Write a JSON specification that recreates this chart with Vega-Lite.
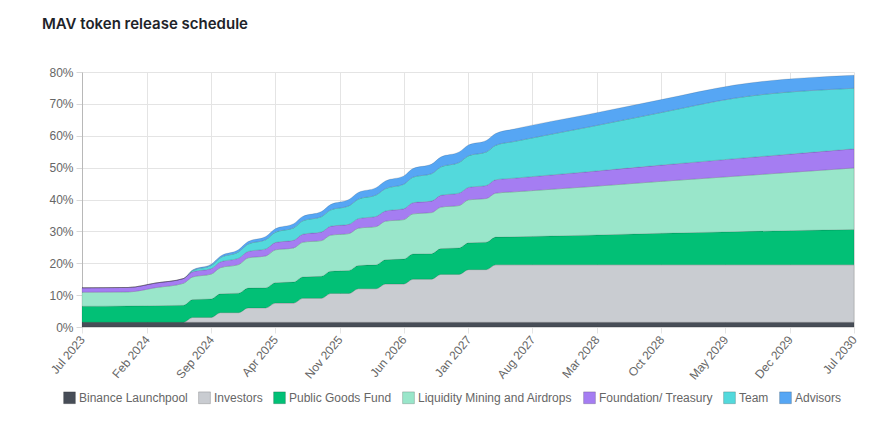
{
  "$schema": "https://vega.github.io/schema/vega-lite/v6.json",
  "width": 772,
  "height": 255,
  "autosize": "none",
  "padding": {"left": 82, "top": 72, "right": 38, "bottom": 104},
  "background": "white",
  "config": {"view": {"stroke": null}},
  "title": {
    "text": "MAV token release schedule",
    "anchor": "start",
    "frame": "group",
    "dx": -40,
    "offset": 34,
    "font": "Inter",
    "fontSize": 15,
    "fontWeight": 600,
    "color": "#1e2329"
  },
  "data": {
    "values": [
      {"d": "2023-07-01", "b": 1.5, "i": 0, "p": 5.0, "l": 4.4, "f": 1.4, "t": 0, "a": 0},
      {"d": "2023-12-01", "b": 1.5, "i": 0, "p": 5.1, "l": 4.4, "f": 1.4, "t": 0, "a": 0},
      {"d": "2024-03-01", "b": 1.5, "i": 0, "p": 5.2, "l": 5.65, "f": 1.45, "t": 0, "a": 0},
      {"d": "2024-06-01", "b": 1.5, "i": 0, "p": 5.3, "l": 6.9, "f": 1.5, "t": 0, "a": 0},
      {"d": "2024-07-01", "b": 1.5, "i": 1.5, "p": 5.6, "l": 7.1, "f": 1.6, "t": 0.4, "a": 0.2},
      {"d": "2024-09-01", "b": 1.5, "i": 1.5, "p": 5.8, "l": 7.8, "f": 1.7, "t": 1.0, "a": 0.4},
      {"d": "2024-10-01", "b": 1.5, "i": 3, "p": 5.9, "l": 8.2, "f": 1.8, "t": 1.3, "a": 0.5},
      {"d": "2024-12-01", "b": 1.5, "i": 3, "p": 6.1, "l": 9.0, "f": 2.0, "t": 2.0, "a": 0.7},
      {"d": "2025-01-01", "b": 1.5, "i": 4.5, "p": 6.2, "l": 9.5, "f": 2.0, "t": 2.3, "a": 0.8},
      {"d": "2025-03-01", "b": 1.5, "i": 4.5, "p": 6.3, "l": 10.0, "f": 2.2, "t": 2.9, "a": 1.0},
      {"d": "2025-04-01", "b": 1.5, "i": 6, "p": 6.4, "l": 10.3, "f": 2.3, "t": 3.2, "a": 1.1},
      {"d": "2025-06-01", "b": 1.5, "i": 6, "p": 6.6, "l": 10.7, "f": 2.4, "t": 3.9, "a": 1.3},
      {"d": "2025-07-01", "b": 1.5, "i": 7.5, "p": 6.7, "l": 10.9, "f": 2.5, "t": 4.2, "a": 1.4},
      {"d": "2025-09-01", "b": 1.5, "i": 7.5, "p": 6.9, "l": 11.2, "f": 2.7, "t": 4.8, "a": 1.6},
      {"d": "2025-10-01", "b": 1.5, "i": 9, "p": 7.0, "l": 11.3, "f": 2.8, "t": 5.1, "a": 1.7},
      {"d": "2025-12-01", "b": 1.5, "i": 9, "p": 7.2, "l": 11.6, "f": 2.9, "t": 5.8, "a": 2.0},
      {"d": "2026-01-01", "b": 1.5, "i": 10.5, "p": 7.3, "l": 11.7, "f": 3.0, "t": 6.1, "a": 2.1},
      {"d": "2026-03-01", "b": 1.5, "i": 10.5, "p": 7.5, "l": 12.0, "f": 3.2, "t": 6.7, "a": 2.3},
      {"d": "2026-04-01", "b": 1.5, "i": 12, "p": 7.6, "l": 12.1, "f": 3.2, "t": 7.0, "a": 2.4},
      {"d": "2026-06-01", "b": 1.5, "i": 12, "p": 7.8, "l": 12.4, "f": 3.4, "t": 7.7, "a": 2.6},
      {"d": "2026-07-01", "b": 1.5, "i": 13.5, "p": 7.9, "l": 12.6, "f": 3.5, "t": 8.0, "a": 2.7},
      {"d": "2026-09-01", "b": 1.5, "i": 13.5, "p": 8.0, "l": 12.9, "f": 3.6, "t": 8.6, "a": 3.0},
      {"d": "2026-10-01", "b": 1.5, "i": 15, "p": 8.1, "l": 13.0, "f": 3.7, "t": 8.9, "a": 3.1},
      {"d": "2026-12-01", "b": 1.5, "i": 15, "p": 8.3, "l": 13.3, "f": 3.9, "t": 9.6, "a": 3.3},
      {"d": "2027-01-01", "b": 1.5, "i": 16.5, "p": 8.4, "l": 13.5, "f": 3.9, "t": 9.9, "a": 3.4},
      {"d": "2027-03-01", "b": 1.5, "i": 16.5, "p": 8.6, "l": 13.7, "f": 4.1, "t": 10.5, "a": 3.6},
      {"d": "2027-04-01", "b": 1.5, "i": 18, "p": 8.7, "l": 13.8, "f": 4.2, "t": 10.8, "a": 3.7},
      {"d": "2027-06-01", "b": 1.5, "i": 18, "p": 8.8, "l": 14.1, "f": 4.3, "t": 11.5, "a": 3.9},
      {"d": "2028-02-01", "b": 1.5, "i": 18, "p": 9.3, "l": 15.2, "f": 4.7, "t": 14.0, "a": 4.0},
      {"d": "2028-10-01", "b": 1.5, "i": 18, "p": 9.9, "l": 16.3, "f": 5.1, "t": 16.5, "a": 4.05},
      {"d": "2029-06-01", "b": 1.5, "i": 18, "p": 10.4, "l": 17.4, "f": 5.5, "t": 19.0, "a": 4.1},
      {"d": "2030-07-01", "b": 1.5, "i": 18, "p": 11.1, "l": 19.3, "f": 6.0, "t": 19.0, "a": 4.1}
    ]
  },
  "transform": [
    {"fold": ["b", "i", "p", "l", "f", "t", "a"], "as": ["key", "v"]},
    {
      "lookup": "key",
      "from": {
        "data": {
          "values": [
            {"key": "b", "name": "Binance Launchpool", "ord": 0},
            {"key": "i", "name": "Investors", "ord": 1},
            {"key": "p", "name": "Public Goods Fund", "ord": 2},
            {"key": "l", "name": "Liquidity Mining and Airdrops", "ord": 3},
            {"key": "f", "name": "Foundation/ Treasury", "ord": 4},
            {"key": "t", "name": "Team", "ord": 5},
            {"key": "a", "name": "Advisors", "ord": 6}
          ]
        },
        "key": "key",
        "fields": ["name", "ord"]
      }
    }
  ],
  "mark": {
    "type": "area",
    "interpolate": "monotone",
    "stroke": "rgba(0,0,0,0.12)",
    "strokeWidth": 1,
    "fillOpacity": 1
  },
  "encoding": {
    "x": {
      "field": "d",
      "type": "temporal",
      "scale": {
        "type": "utc",
        "domain": [
          {"year": 2023, "month": 7, "date": 1, "utc": true},
          {"year": 2030, "month": 7, "date": 1, "utc": true}
        ]
      },
      "axis": {
        "title": null,
        "format": "%b %Y",
        "values": [
          {"year": 2023, "month": 7, "date": 1, "utc": true},
          {"year": 2024, "month": 2, "date": 1, "utc": true},
          {"year": 2024, "month": 9, "date": 1, "utc": true},
          {"year": 2025, "month": 4, "date": 1, "utc": true},
          {"year": 2025, "month": 11, "date": 1, "utc": true},
          {"year": 2026, "month": 6, "date": 1, "utc": true},
          {"year": 2027, "month": 1, "date": 1, "utc": true},
          {"year": 2027, "month": 8, "date": 1, "utc": true},
          {"year": 2028, "month": 3, "date": 1, "utc": true},
          {"year": 2028, "month": 10, "date": 1, "utc": true},
          {"year": 2029, "month": 5, "date": 1, "utc": true},
          {"year": 2029, "month": 12, "date": 1, "utc": true},
          {"year": 2030, "month": 7, "date": 1, "utc": true}
        ],
        "labelAngle": -50,
        "labelAlign": "right",
        "labelBaseline": "middle",
        "labelFont": "Liberation Sans",
        "labelFontSize": 12,
        "labelColor": "#666666",
        "labelPadding": 4,
        "labelOverlap": false,
        "labelFlush": false,
        "grid": true,
        "gridColor": "#e4e4e4",
        "tickColor": "#e4e4e4",
        "tickSize": 6,
        "domain": false
      }
    },
    "y": {
      "field": "v",
      "type": "quantitative",
      "stack": "zero",
      "scale": {"domain": [0, 80], "nice": false},
      "axis": {
        "title": null,
        "values": [0, 10, 20, 30, 40, 50, 60, 70, 80],
        "labelExpr": "datum.value + '%'",
        "labelFont": "Liberation Sans",
        "labelFontSize": 12,
        "labelColor": "#666666",
        "labelPadding": 3,
        "grid": true,
        "gridColor": "#e4e4e4",
        "tickColor": "#d8d8d8",
        "tickSize": 6,
        "domain": true,
        "domainColor": "#b8b8b8"
      }
    },
    "color": {
      "field": "name",
      "type": "nominal",
      "scale": {
        "domain": ["Binance Launchpool", "Investors", "Public Goods Fund", "Liquidity Mining and Airdrops", "Foundation/ Treasury", "Team", "Advisors"],
        "range": ["#474d57", "#c9ccd1", "#02c076", "#99e6ca", "#a57df2", "#53d9dc", "#56a6f4"]
      },
      "legend": {
        "title": null,
        "orient": "none",
        "direction": "horizontal",
        "columns": 7,
        "legendX": -19,
        "legendY": 319,
        "symbolType": "square",
        "symbolSize": 140,
        "symbolStrokeColor": "rgba(0,0,0,0.18)",
        "symbolStrokeWidth": 1,
        "symbolOpacity": 1,
        "labelFont": "Liberation Sans",
        "labelFontSize": 12,
        "labelColor": "#666666",
        "labelOffset": 3,
        "columnPadding": 8,
        "labelLimit": 300
      }
    },
    "order": {"field": "ord", "type": "quantitative"}
  }
}
